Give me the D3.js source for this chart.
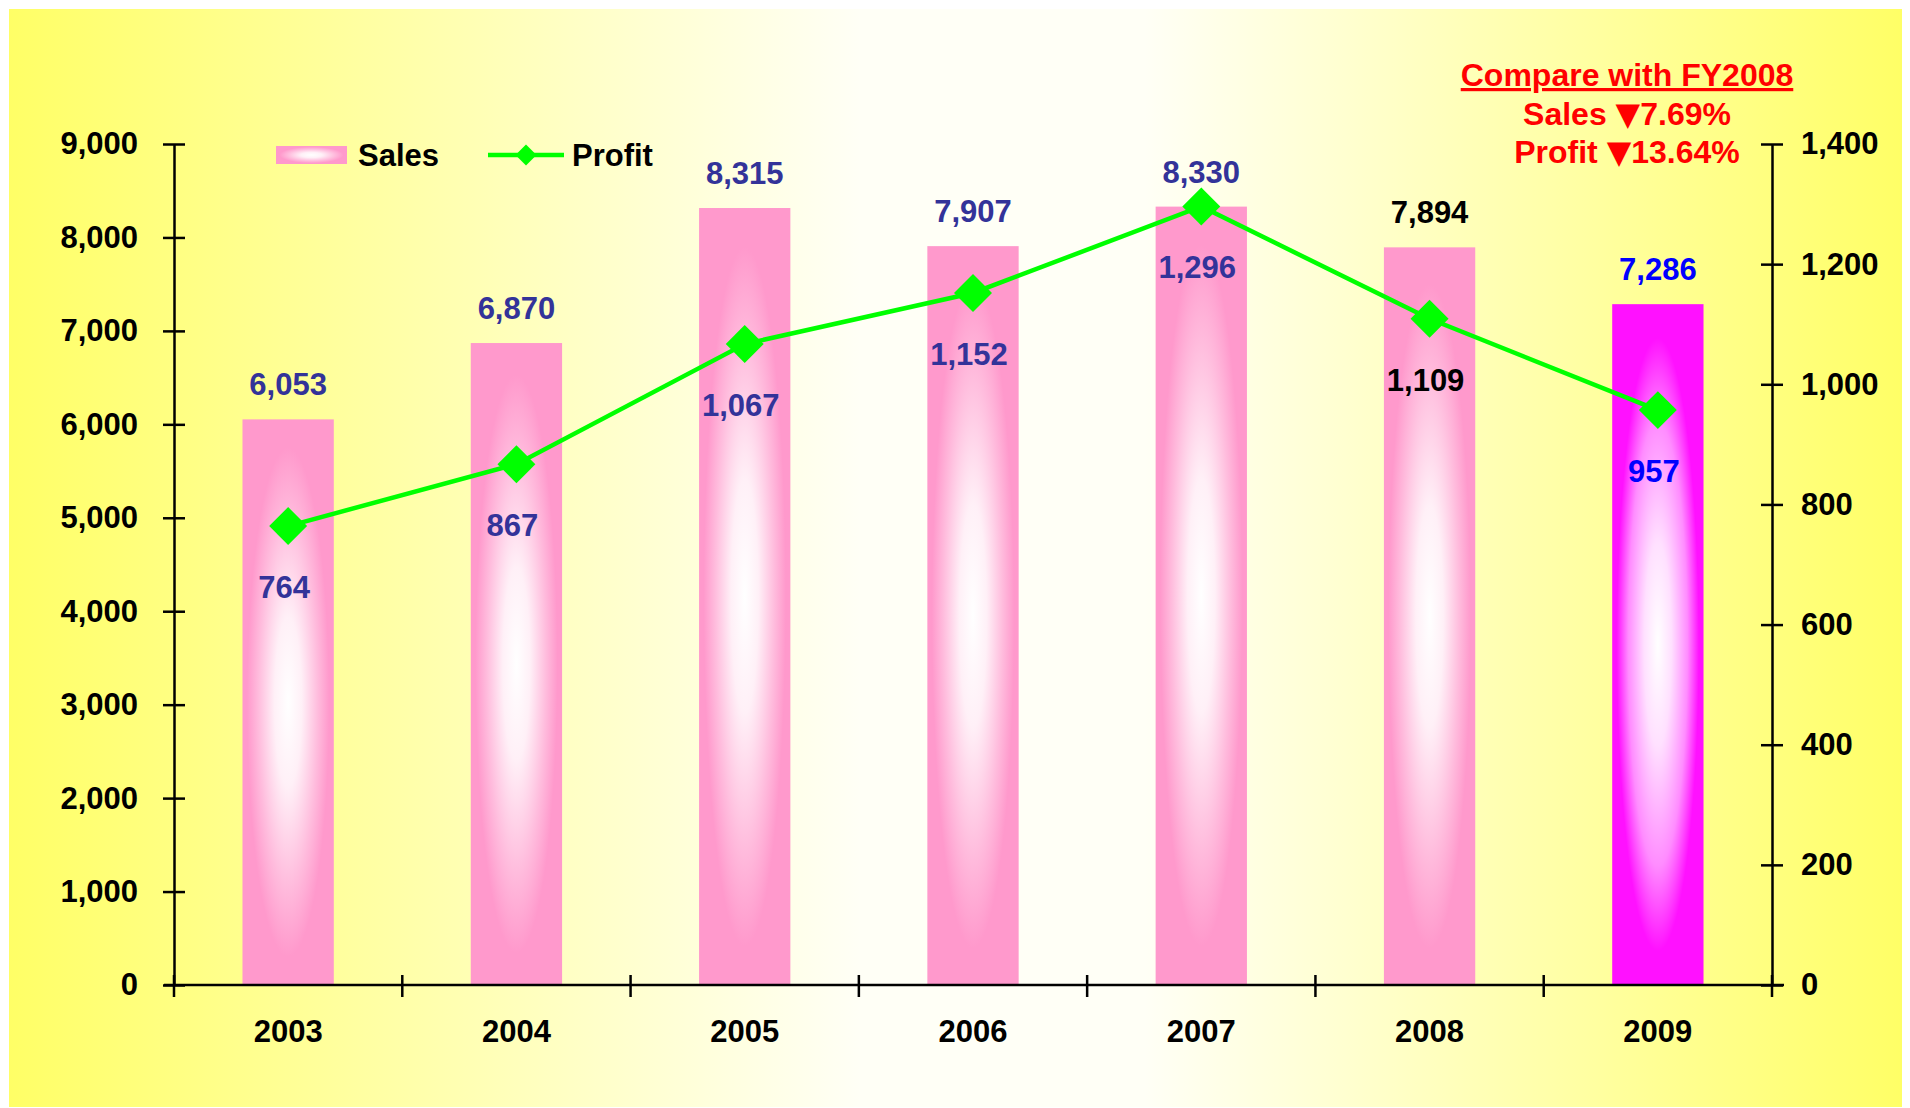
<!DOCTYPE html>
<html>
<head>
<meta charset="utf-8">
<script src="https://cdn.jsdelivr.net/npm/d3@7/dist/d3.min.js"></script>
<style>
  body { margin: 0; background: #fff; }
  text { font-family: "Liberation Sans", Arial, sans-serif; font-weight: bold; }
  .tri { font-family: "DejaVu Sans", sans-serif; }
</style>
</head>
<body>
<div id="chart"></div>
<script>
// data
var years = ["2003", "2004", "2005", "2006", "2007", "2008", "2009"];
var sales = [6053, 6870, 8315, 7907, 8330, 7894, 7286];
var profit = [764, 867, 1067, 1152, 1296, 1109, 957];
var salesTicks = [0, 1000, 2000, 3000, 4000, 5000, 6000, 7000, 8000, 9000];
var profitTicks = [0, 200, 400, 600, 800, 1000, 1200, 1400];
var labelColors = ["#333399", "#333399", "#333399", "#333399", "#333399", "#000000", "#0000ff"];
var noteTitle = "Compare with FY2008";
var noteRows = [["Sales ", "7.69%"], ["Profit ", "13.64%"]];

var W = 1910, H = 1108;
var plot = {left: 174, right: 1772, top: 144, bottom: 985};

var svg = d3.select("#chart")
  .append("svg")
    .attr("width", W)
    .attr("height", H);

var defs = svg.append("defs");

// background: yellow at the sides, near white in the middle
var bg = defs.append("linearGradient").attr("id", "bg")
  .attr("x1", "0").attr("x2", "1").attr("y1", "0").attr("y2", "0");
bg.append("stop").attr("offset", "0").attr("stop-color", "#ffff66");
bg.append("stop").attr("offset", "0.45").attr("stop-color", "#fffff6");
bg.append("stop").attr("offset", "0.6").attr("stop-color", "#fffff6");
bg.append("stop").attr("offset", "1").attr("stop-color", "#ffff66");

// bars glow white from the centre out to the colour at the edges
function barGrad(id, light, mid, edge) {
  var g = defs.append("radialGradient").attr("id", id)
    .attr("cx", "0.5").attr("cy", "0.5").attr("r", "0.5");
  g.append("stop").attr("offset", "0").attr("stop-color", "#ffffff");
  g.append("stop").attr("offset", "0.3").attr("stop-color", light);
  g.append("stop").attr("offset", "0.65").attr("stop-color", mid);
  g.append("stop").attr("offset", "0.9").attr("stop-color", edge);
  g.append("stop").attr("offset", "1").attr("stop-color", edge);
}
barGrad("pinkBar", "#fff0f7", "#ffbcdd", "#ff99cc");
barGrad("magentaBar", "#ffe0ff", "#ff8cff", "#ff11ff");

svg.append("rect")
  .attr("x", 9).attr("y", 9)
  .attr("width", 1893).attr("height", 1098)
  .style("fill", "url(#bg)");

// scales
var x = d3.scaleBand()
  .domain(years)
  .range([plot.left, plot.right])
  .paddingInner(0.6)
  .paddingOuter(0.3);

var yL = d3.scaleLinear()
  .domain([0, 9000])
  .range([plot.bottom, plot.top]);

var yR = d3.scaleLinear()
  .domain([0, 1400])
  .range([plot.bottom, plot.top]);

var fmt = d3.format(",");

// bars
svg.append("g")
  .selectAll("rect")
  .data(years)
  .enter()
  .append("rect")
    .attr("x", function (d) { return x(d); })
    .attr("y", function (d, i) { return yL(sales[i]); })
    .attr("width", x.bandwidth())
    .attr("height", function (d, i) { return yL(0) - yL(sales[i]); })
    .style("fill", function (d, i) { return i == years.length - 1 ? "url(#magentaBar)" : "url(#pinkBar)"; });

// left axis
var axL = svg.append("g")
  .attr("transform", "translate(" + plot.left + ",0)")
  .call(d3.axisLeft(yL).tickValues(salesTicks).tickFormat(fmt)
    .tickSize(11).tickSizeOuter(0).tickPadding(25));
axL.selectAll(".tick line").attr("x1", 11);

// right axis
var axR = svg.append("g")
  .attr("transform", "translate(" + plot.right + ",0)")
  .call(d3.axisRight(yR).tickValues(profitTicks).tickFormat(fmt)
    .tickSize(11).tickSizeOuter(0).tickPadding(18));
axR.selectAll(".tick line").attr("x1", -11);

// bottom axis, labels in the middle of each band
var axB = svg.append("g")
  .attr("transform", "translate(0," + plot.bottom + ")")
  .call(d3.axisBottom(x).tickSize(0).tickSizeOuter(0));
axB.selectAll(".tick text").attr("y", 57).attr("dy", null);

// category separators
var edges = d3.range(years.length + 1).map(function (i) { return plot.left + i * x.step(); });
axB.selectAll(".sep")
  .data(edges)
  .enter()
  .append("line")
    .attr("class", "sep")
    .attr("x1", function (d) { return d; })
    .attr("x2", function (d) { return d; })
    .attr("y1", -10).attr("y2", 12);

svg.selectAll(".domain, .tick line, .sep")
  .style("stroke", "#000")
  .style("stroke-width", 2.5);
svg.selectAll(".tick text")
  .style("font-size", "31px")
  .style("fill", "#000");
axB.select(".domain").attr("d", "M" + (plot.left - 10) + ",0H" + (plot.right + 12));

// profit line
var cx = function (i) { return x(years[i]) + x.bandwidth() / 2; };
var line = d3.line()
  .x(function (d, i) { return cx(i); })
  .y(function (d) { return yR(d); });

svg.append("path")
  .datum(profit)
  .attr("d", line)
  .style("fill", "none")
  .style("stroke", "#00ff00")
  .style("stroke-width", 4.5);

var diamond = d3.symbol().type(d3.symbolSquare).size(720);
svg.append("g")
  .selectAll("path")
  .data(profit)
  .enter()
  .append("path")
    .attr("d", diamond)
    .attr("transform", function (d, i) { return "translate(" + cx(i) + "," + yR(d) + ") rotate(45)"; })
    .style("fill", "#00ff00");

// value labels
svg.append("g")
  .selectAll("text")
  .data(sales)
  .enter()
  .append("text")
    .attr("x", function (d, i) { return cx(i); })
    .attr("y", function (d) { return yL(d) - 24; })
    .attr("text-anchor", "middle")
    .style("font-size", "31px")
    .style("fill", function (d, i) { return labelColors[i]; })
    .text(function (d) { return fmt(d); });

svg.append("g")
  .selectAll("text")
  .data(profit)
  .enter()
  .append("text")
    .attr("x", function (d, i) { return cx(i) - 4; })
    .attr("y", function (d) { return yR(d) + 72; })
    .attr("text-anchor", "middle")
    .style("font-size", "31px")
    .style("fill", function (d, i) { return labelColors[i]; })
    .text(function (d) { return fmt(d); });

// legend
var legend = svg.append("g");
legend.append("rect")
  .attr("x", 276).attr("y", 146)
  .attr("width", 71).attr("height", 18)
  .style("fill", "url(#pinkBar)");
legend.append("text")
  .attr("x", 358).attr("y", 166)
  .style("font-size", "31px")
  .text("Sales");
legend.append("line")
  .attr("x1", 488).attr("x2", 564)
  .attr("y1", 155).attr("y2", 155)
  .style("stroke", "#00ff00")
  .style("stroke-width", 4.5);
legend.append("path")
  .attr("d", d3.symbol().type(d3.symbolSquare).size(220))
  .attr("transform", "translate(526,155) rotate(45)")
  .style("fill", "#00ff00");
legend.append("text")
  .attr("x", 572).attr("y", 166)
  .style("font-size", "31px")
  .text("Profit");

// comparison note
var note = svg.append("g").style("fill", "#ff0000");
note.append("text")
  .attr("x", 1627).attr("y", 86)
  .attr("text-anchor", "middle")
  .style("font-size", "32px")
  .style("text-decoration", "underline")
  .text(noteTitle);
var rows = note.selectAll(".row")
  .data(noteRows)
  .enter()
  .append("text")
    .attr("class", "row")
    .attr("x", 1627)
    .attr("y", function (d, i) { return 125 + i * 38; })
    .attr("text-anchor", "middle")
    .style("font-size", "32px");
rows.append("tspan").text(function (d) { return d[0]; });
rows.append("tspan").attr("class", "tri").text("\u25BC");
rows.append("tspan").text(function (d) { return d[1]; });
</script>
</body>
</html>
